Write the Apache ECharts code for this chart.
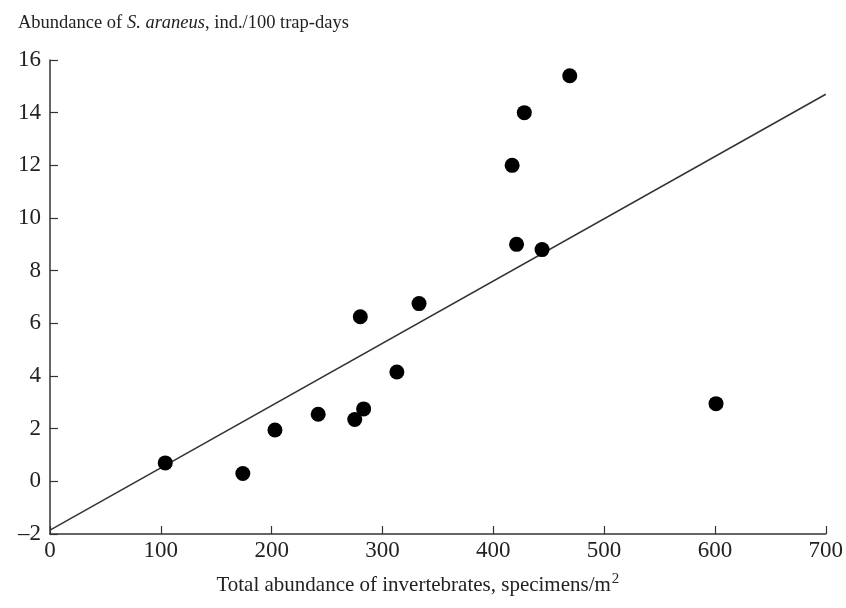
<!DOCTYPE html>
<html>
<head>
<meta charset="utf-8">
<script src="https://cdn.jsdelivr.net/npm/echarts@6/dist/echarts.min.js"></script>
<style>
  html, body { margin: 0; padding: 0; background: #fff; }
  #chart { width: 846px; height: 608px; }
</style>
</head>
<body>
<div id="chart"></div>
<script>
// invertebrates (specimens/m2) vs S. araneus (ind./100 trap-days)
const invertebrates = [104, 174, 203, 242, 275, 280, 283, 313, 333, 417, 421, 428, 444, 469, 601]
const shrews = [0.7, 0.3, 1.95, 2.55, 2.35, 6.25, 2.75, 4.15, 6.75, 12.0, 9.0, 14.0, 8.8, 15.4, 2.95]
// regression line end points
const trendX = [0, 700]
const trendY = [-1.85, 14.7]

const font = 'Liberation Serif, Times New Roman, serif'
const axisColor = '#333'

const chart = echarts.init(document.getElementById('chart'))
chart.setOption({
  animation: false,
  textStyle: { fontFamily: font },
  title: {
    text: '{n|Abundance of }{i|S. araneus}{n|, ind./100 trap-days}',
    left: 13,
    top: 6,
    textStyle: {
      fontWeight: 'normal',
      rich: {
        n: { fontFamily: font, fontSize: 18.5, lineHeight: 24, color: '#222', fontWeight: 'normal' },
        i: { fontFamily: font, fontSize: 18.5, lineHeight: 24, color: '#222', fontWeight: 'normal', fontStyle: 'italic' }
      }
    }
  },
  grid: { left: 50, right: 19, top: 60, bottom: 74 },
  xAxis: {
    type: 'value',
    min: 0,
    max: 700,
    interval: 100,
    name: '{n|Total abundance of invertebrates, specimens/m}{s|2}',
    nameLocation: 'middle',
    nameGap: 38,
    nameTextStyle: {
      padding: [0, 40, 0, 0],
      rich: {
        n: { fontFamily: font, fontSize: 21, color: '#222' },
        s: { fontFamily: font, fontSize: 15, color: '#222', verticalAlign: 'top', padding: [0, 0, 12, 1] }
      }
    },
    axisLine: { onZero: false, lineStyle: { color: axisColor, width: 1.5 } },
    axisTick: { inside: true, length: 8, lineStyle: { color: axisColor, width: 1.2 } },
    axisLabel: { fontFamily: font, fontSize: 23, color: '#222', margin: 5 },
    splitLine: { show: false }
  },
  yAxis: {
    type: 'value',
    min: -2,
    max: 16,
    interval: 2,
    axisLine: { show: true, onZero: false, lineStyle: { color: axisColor, width: 1.5 } },
    axisTick: { show: true, inside: true, length: 8, lineStyle: { color: axisColor, width: 1.2 } },
    axisLabel: {
      fontFamily: font, fontSize: 23, color: '#222', margin: 9,
      formatter: v => String(v).replace('-', '\u2013')
    },
    splitLine: { show: false }
  },
  series: [
    {
      type: 'line',
      data: trendX.map((x, i) => [x, trendY[i]]),
      symbol: 'none',
      lineStyle: { color: '#333', width: 1.5 },
      silent: true,
      z: 1
    },
    {
      type: 'scatter',
      data: invertebrates.map((x, i) => [x, shrews[i]]),
      symbol: 'circle',
      symbolSize: 15,
      itemStyle: { color: '#000', opacity: 1 },
      z: 2
    }
  ]
})
</script>
</body>
</html>
